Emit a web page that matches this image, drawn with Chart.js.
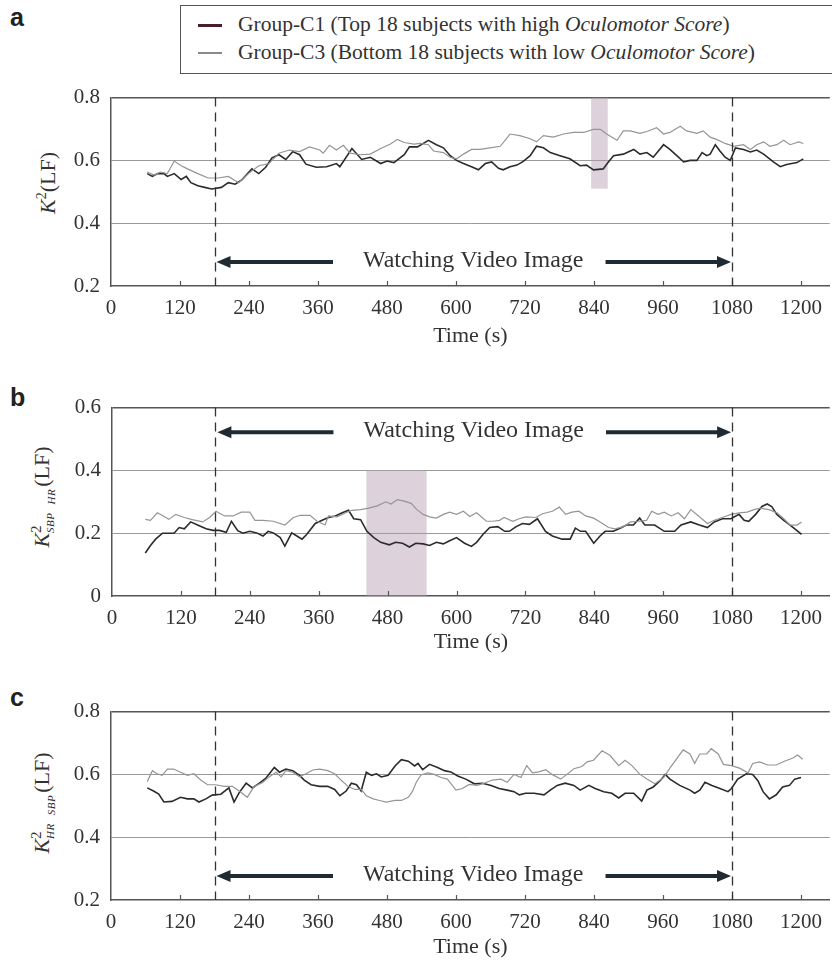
<!DOCTYPE html>
<html>
<head>
<meta charset="utf-8">
<script src="https://cdn.jsdelivr.net/npm/chart.js@4.4.1/dist/chart.umd.min.js"></script>
<style>
  body { margin: 0; background: #fff; }
  #page { position: relative; width: 832px; height: 961px; overflow: hidden; font-family: "Liberation Serif", "Times New Roman", serif; color: #333; }
  canvas { position: absolute; left: 0; }
  .letter { position: absolute; left: 10px; font: bold 25px/24px "Liberation Sans", Arial, sans-serif; color: #222; }
  .ytitle { position: absolute; white-space: nowrap; font-size: 22px; line-height: 22px; transform: translate(-50%, -50%) rotate(-90deg); }
  .ytitle sup { font-size: 14px; }
  .st { display: inline-flex; flex-direction: column; vertical-align: 8px; line-height: 14px; }
  .st .two { font-size: 15px; }
  .st .sb { font-size: 11px; line-height: 14px; font-style: italic; letter-spacing: 0.5px; }
  .hr { display: inline-block; font-size: 11px; font-style: italic; vertical-align: -6px; margin: 0 2px 0 8px; letter-spacing: 0.5px; }
  #legend { position: absolute; left: 180px; top: 5px; width: 700px; height: 63px; border: 1.5px solid #555; padding-top: 4px; box-sizing: content-box; font-size: 21.5px; line-height: 28px; }
  #legend div { padding-left: 17px; white-space: nowrap; }
  .sw { display: inline-block; width: 24px; height: 3px; vertical-align: middle; margin-right: 16px; position: relative; top: -1px; }
</style>
</head>
<body>
<div id="page">
  <div class="letter" style="top:5px">a</div>
  <div class="letter" style="top:385px">b</div>
  <div class="letter" style="top:685px">c</div>

  <div id="legend">
    <div><span class="sw" style="background:#4a1d2c"></span>Group-C1 (Top 18 subjects with high <i>Oculomotor Score</i>)</div>
    <div><span class="sw" style="background:#8a8a8a;height:2px"></span>Group-C3 (Bottom 18 subjects with low <i>Oculomotor Score</i>)</div>
  </div>

  <div class="ytitle" style="left:45px;top:183px"><i>K</i><sup>2</sup>(LF)</div>
  <div class="ytitle" style="left:45px;top:497px"><i>K</i><span class="st"><span class="two">2</span><span class="sb">SBP</span></span><span class="hr">HR</span>(LF)</div>
  <div class="ytitle" style="left:45px;top:803px"><i>K</i><span class="st"><span class="two">2</span><span class="sb">HR</span></span><span class="hr">SBP</span>(LF)</div>

  <canvas id="chartA" width="832" height="276" style="top:74px"></canvas>
  <canvas id="chartB" width="832" height="272" style="top:384px"></canvas>
  <canvas id="chartC" width="832" height="273" style="top:688px"></canvas>
</div>

<script>
// x axis (seconds) and the video window
const timeTicks = [0, 120, 240, 360, 480, 600, 720, 840, 960, 1080, 1200];
const videoWindow = [180, 1080];
const videoLabel = 'Watching Video Image';

// panel a : K2(LF)
const aTicks = [0.2, 0.4, 0.6, 0.8];
const aC1Time = [63,72,81,92,98,110,122,131,139,151,163,175,192,204,216,228,245,257,269,280,292,304,316,328,339,357,375,392,398,419,436,451,469,480,492,510,519,533,552,566,578,590,601,613,627,639,651,662,674,682,694,706,717,729,740,752,764,781,798,816,827,839,856,865,874,891,909,920,932,943,952,961,972,984,996,1007,1019,1028,1036,1042,1051,1059,1068,1077,1086,1100,1112,1123,1135,1152,1164,1175,1193,1204];
const aC1 = [0.558,0.549,0.558,0.558,0.549,0.558,0.539,0.549,0.529,0.519,0.514,0.509,0.514,0.529,0.524,0.539,0.573,0.558,0.578,0.608,0.618,0.603,0.628,0.618,0.588,0.578,0.580,0.590,0.580,0.638,0.603,0.610,0.590,0.598,0.593,0.618,0.643,0.643,0.664,0.650,0.640,0.615,0.600,0.590,0.580,0.570,0.590,0.595,0.575,0.570,0.580,0.585,0.597,0.615,0.645,0.640,0.625,0.615,0.605,0.583,0.585,0.570,0.573,0.595,0.615,0.620,0.635,0.620,0.625,0.610,0.630,0.650,0.635,0.615,0.595,0.600,0.600,0.625,0.615,0.620,0.650,0.630,0.610,0.600,0.640,0.635,0.627,0.633,0.620,0.595,0.580,0.587,0.593,0.605];
const aC3Time = [63,75,86,98,110,122,133,151,169,186,204,222,239,257,275,292,310,328,345,363,369,380,392,404,416,433,451,469,486,498,510,527,537,552,561,578,590,601,613,627,642,659,677,694,711,729,740,752,769,787,804,822,839,851,862,880,891,903,920,932,949,961,972,990,1001,1019,1030,1042,1054,1068,1083,1100,1112,1123,1135,1146,1158,1170,1181,1196,1204];
const aC3 = [0.563,0.553,0.563,0.558,0.598,0.583,0.573,0.558,0.544,0.544,0.549,0.529,0.558,0.583,0.590,0.623,0.633,0.628,0.643,0.633,0.623,0.648,0.633,0.648,0.623,0.618,0.620,0.638,0.652,0.667,0.657,0.652,0.654,0.650,0.630,0.625,0.610,0.605,0.620,0.635,0.635,0.640,0.645,0.684,0.679,0.669,0.659,0.679,0.674,0.684,0.689,0.689,0.699,0.699,0.684,0.664,0.694,0.694,0.686,0.692,0.704,0.684,0.689,0.709,0.694,0.686,0.694,0.674,0.666,0.654,0.645,0.650,0.635,0.650,0.659,0.645,0.650,0.664,0.650,0.659,0.654];
const aShade = [[835, 864, 0.51, 0.8]];

// panel b : K2 SBP HR (LF)
const bTicks = [0, 0.2, 0.4, 0.6];
const bC1Time = [58,67,76,88,99,108,117,126,137,149,164,176,187,199,208,219,228,240,252,263,272,281,293,301,313,322,331,339,354,366,377,389,401,412,421,433,444,456,468,483,494,506,518,529,542,553,565,577,588,600,614,626,635,646,658,672,684,692,704,715,727,741,755,767,784,798,807,816,825,839,850,859,873,885,896,908,919,928,945,962,980,991,1008,1023,1037,1049,1063,1078,1092,1101,1109,1121,1132,1141,1149,1158,1170,1181,1193,1201];
const bC1 = [0.137,0.161,0.181,0.200,0.200,0.200,0.218,0.214,0.236,0.226,0.214,0.209,0.209,0.203,0.238,0.208,0.200,0.206,0.201,0.191,0.206,0.201,0.186,0.159,0.201,0.191,0.181,0.196,0.231,0.241,0.250,0.255,0.265,0.273,0.246,0.243,0.206,0.186,0.171,0.163,0.171,0.168,0.156,0.168,0.166,0.161,0.171,0.166,0.176,0.186,0.168,0.158,0.171,0.196,0.218,0.221,0.206,0.206,0.221,0.231,0.228,0.246,0.206,0.191,0.181,0.181,0.216,0.206,0.206,0.168,0.191,0.206,0.206,0.216,0.226,0.226,0.248,0.226,0.226,0.206,0.206,0.226,0.236,0.226,0.218,0.236,0.246,0.246,0.260,0.241,0.238,0.260,0.285,0.293,0.285,0.260,0.241,0.226,0.208,0.196];
const bC3Time = [58,67,79,91,99,111,126,140,158,170,181,196,211,225,240,249,263,281,301,316,328,345,357,371,377,392,407,418,433,447,462,477,486,497,509,521,531,542,553,565,577,588,600,612,623,635,652,663,675,683,698,709,721,738,750,767,779,790,801,813,825,839,850,865,876,891,903,917,931,940,951,962,974,986,997,1008,1020,1037,1049,1063,1078,1092,1106,1118,1129,1144,1158,1170,1181,1193,1201];
const bC3 = [0.244,0.241,0.265,0.253,0.244,0.260,0.250,0.243,0.236,0.250,0.270,0.255,0.255,0.267,0.267,0.241,0.241,0.238,0.226,0.250,0.257,0.257,0.238,0.226,0.255,0.252,0.265,0.273,0.275,0.280,0.287,0.300,0.293,0.307,0.302,0.295,0.275,0.260,0.252,0.248,0.260,0.267,0.260,0.270,0.253,0.265,0.238,0.238,0.241,0.250,0.238,0.246,0.252,0.250,0.262,0.270,0.283,0.260,0.267,0.270,0.255,0.248,0.236,0.218,0.214,0.221,0.236,0.238,0.241,0.270,0.260,0.267,0.255,0.265,0.246,0.275,0.257,0.231,0.241,0.250,0.260,0.265,0.267,0.275,0.280,0.275,0.265,0.246,0.226,0.226,0.236];
const bShade = [[443, 548, 0, 0.4]];

// panel c : K2 HR SBP (LF)
const cTicks = [0.2, 0.4, 0.6, 0.8];
const cC1Time = [63,74,83,92,106,121,133,144,153,165,176,191,205,214,223,235,246,258,269,284,293,304,316,328,336,348,363,377,389,398,409,418,427,435,444,453,462,470,482,494,505,517,528,534,542,554,568,580,591,603,617,632,646,661,675,689,701,710,721,736,753,764,776,790,805,816,831,842,857,871,883,894,909,923,932,943,955,964,972,989,1007,1015,1024,1033,1045,1059,1073,1079,1090,1105,1116,1125,1134,1145,1157,1168,1180,1189,1200];
const cC1 = [0.557,0.547,0.537,0.512,0.514,0.527,0.522,0.522,0.512,0.522,0.534,0.537,0.557,0.512,0.542,0.572,0.557,0.572,0.587,0.622,0.607,0.617,0.612,0.597,0.582,0.567,0.562,0.562,0.552,0.532,0.547,0.572,0.567,0.547,0.607,0.597,0.602,0.592,0.597,0.627,0.647,0.642,0.627,0.635,0.615,0.632,0.622,0.612,0.608,0.595,0.585,0.570,0.572,0.565,0.555,0.550,0.545,0.535,0.540,0.540,0.535,0.550,0.565,0.572,0.565,0.550,0.565,0.555,0.545,0.540,0.525,0.540,0.540,0.515,0.550,0.560,0.580,0.600,0.585,0.565,0.550,0.540,0.550,0.575,0.565,0.555,0.545,0.555,0.585,0.602,0.600,0.580,0.545,0.522,0.535,0.560,0.565,0.585,0.590];
const cC3Time = [63,72,80,89,98,109,121,133,144,156,168,182,197,211,223,237,249,264,275,287,296,304,316,328,339,351,363,377,389,400,412,424,435,444,456,467,479,494,505,517,524,531,539,551,562,574,585,600,611,623,637,649,663,678,689,701,713,723,733,744,756,767,782,793,805,819,828,839,854,868,883,894,906,920,932,946,961,972,984,995,1007,1015,1024,1036,1044,1056,1065,1079,1093,1108,1116,1128,1142,1157,1171,1186,1194,1203];
const cC3 = [0.577,0.612,0.602,0.597,0.617,0.617,0.607,0.597,0.602,0.582,0.567,0.567,0.562,0.562,0.547,0.527,0.562,0.574,0.592,0.607,0.592,0.612,0.607,0.592,0.602,0.614,0.617,0.612,0.602,0.582,0.562,0.552,0.552,0.532,0.522,0.517,0.512,0.517,0.517,0.527,0.545,0.575,0.598,0.605,0.600,0.590,0.585,0.550,0.555,0.568,0.565,0.572,0.582,0.585,0.575,0.600,0.590,0.628,0.605,0.608,0.615,0.600,0.585,0.600,0.618,0.625,0.640,0.645,0.675,0.660,0.628,0.645,0.628,0.600,0.585,0.570,0.590,0.620,0.650,0.678,0.665,0.635,0.665,0.665,0.682,0.665,0.632,0.628,0.620,0.605,0.635,0.640,0.630,0.630,0.642,0.652,0.662,0.648];
const cShade = [];

const serif = '"Liberation Serif", "Times New Roman", serif';

function pairs(times, vals) {
    const n = Math.min(times.length, vals.length);
    const out = [];
    for (let i = 0; i < n; i++) out.push({x: times[i], y: vals[i]});
    return out;
}

function drawArrow(ctx, from, to, y) {
    const dir = Math.sign(to - from);
    const head = 14;
    ctx.beginPath();
    ctx.moveTo(from, y);
    ctx.lineTo(to - dir * head + dir * 2, y);
    ctx.stroke();
    ctx.beginPath();
    ctx.moveTo(to, y);
    ctx.lineTo(to - dir * head, y - 6);
    ctx.lineTo(to - dir * head, y + 6);
    ctx.closePath();
    ctx.fill();
}

// shading, video window, arrows and the inward x ticks
const panelDecor = {
    id: 'panelDecor',
    beforeDatasetsDraw(chart, args, opts) {
        const {ctx, scales: {x, y}} = chart;
        ctx.save();
        ctx.fillStyle = 'rgba(180,155,178,0.45)';
        opts.shades.forEach(s => {
            const x0 = x.getPixelForValue(s[0]), x1 = x.getPixelForValue(s[1]);
            const y0 = y.getPixelForValue(s[3]), y1 = y.getPixelForValue(s[2]);
            ctx.fillRect(x0, y0, x1 - x0, y1 - y0);
        });
        ctx.restore();
    },
    afterDatasetsDraw(chart, args, opts) {
        const {ctx, chartArea, scales: {x, y}} = chart;
        ctx.save();

        // inward tick marks on the time axis
        ctx.strokeStyle = '#555';
        ctx.lineWidth = 1.2;
        timeTicks.forEach(t => {
            if (t === 0) return;
            const px = Math.round(x.getPixelForValue(t)) + 0.5;
            ctx.beginPath();
            ctx.moveTo(px, chartArea.bottom);
            ctx.lineTo(px, chartArea.bottom - 5);
            ctx.stroke();
        });

        // dashed lines at start and end of the video
        ctx.setLineDash([9, 6]);
        ctx.strokeStyle = '#333';
        ctx.lineWidth = 1.3;
        videoWindow.forEach(t => {
            const px = Math.round(x.getPixelForValue(t)) + 0.5;
            ctx.beginPath();
            ctx.moveTo(px, chartArea.top);
            ctx.lineTo(px, chartArea.bottom);
            ctx.stroke();
        });
        ctx.setLineDash([]);

        // label with arrows
        const xl = x.getPixelForValue(videoWindow[0]);
        const xr = x.getPixelForValue(videoWindow[1]);
        const cx = (xl + xr) / 2;
        const cy = y.getPixelForValue(opts.arrowY);
        ctx.font = '24px ' + serif;
        ctx.textAlign = 'center';
        ctx.textBaseline = 'middle';
        ctx.fillStyle = '#333';
        ctx.fillText(videoLabel, cx, cy);
        const half = ctx.measureText(videoLabel).width / 2;
        ctx.strokeStyle = '#1f2a33';
        ctx.fillStyle = '#1f2a33';
        ctx.lineWidth = 4;
        drawArrow(ctx, cx - half - 30, xl + 2, cy + 1);
        drawArrow(ctx, cx + half + 22, xr - 1, cy + 1);
        ctx.restore();
    }
};

function makePanel(id, c1Time, c1, c3Time, c3, yTicks, yWidth, xHeight, arrowY, shades) {
    const yMin = yTicks[0], yMax = yTicks[yTicks.length - 1];
    return new Chart(document.getElementById(id), {
        type: 'line',
        data: {
            datasets: [{
                label: 'Group-C3',
                data: pairs(c3Time, c3),
                borderColor: '#959595',
                borderWidth: 1.2,
                pointRadius: 0,
                tension: 0,
                fill: false
            }, {
                label: 'Group-C1',
                data: pairs(c1Time, c1),
                borderColor: '#2b2b2b',
                borderWidth: 1.6,
                pointRadius: 0,
                tension: 0,
                fill: false
            }]
        },
        options: {
            responsive: false,
            devicePixelRatio: 1,
            animation: false,
            layout: { padding: { top: 10, right: 0, left: 0, bottom: 0 } },
            plugins: {
                legend: { display: false },
                tooltip: { enabled: false },
                panelDecor: { arrowY: arrowY, shades: shades }
            },
            scales: {
                x: {
                    type: 'linear',
                    min: 0,
                    max: 1250,
                    afterBuildTicks: s => { s.ticks = timeTicks.map(v => ({value: v})); },
                    afterFit: s => { s.height = xHeight; },
                    grid: { display: true, drawOnChartArea: false, drawTicks: false },
                    border: { display: true, color: '#555', width: 1.5 },
                    ticks: {
                        font: { family: serif, size: 21 },
                        color: '#333',
                        padding: 10,
                        maxRotation: 0,
                        autoSkip: false,
                        callback: v => String(v)
                    },
                    title: {
                        display: true,
                        text: 'Time (s)',
                        font: { family: serif, size: 22 },
                        color: '#333',
                        padding: { top: 0, bottom: 1 }
                    }
                },
                y: {
                    min: yMin,
                    max: yMax,
                    afterBuildTicks: s => { s.ticks = yTicks.map(v => ({value: v})); },
                    afterFit: s => { s.width = yWidth; },
                    grid: {
                        drawTicks: false,
                        color: c => c.tick.value === yMax ? '#555' : (c.tick.value === yMin ? 'rgba(0,0,0,0)' : '#9a9a9a'),
                        lineWidth: c => c.tick.value === yMax ? 1.5 : 1
                    },
                    border: { display: true, color: '#555', width: 1.5 },
                    ticks: {
                        font: { family: serif, size: 21 },
                        color: '#333',
                        padding: 11,
                        callback: v => v === 0 ? '0' : v.toFixed(1)
                    }
                }
            }
        },
        plugins: [panelDecor]
    });
}

makePanel('chartA', aC1Time, aC1, aC3Time, aC3, aTicks, 111, 64, 0.28, aShade);
makePanel('chartB', bC1Time, bC1, bC3Time, bC3, bTicks, 112, 60, 0.525, bShade);
makePanel('chartC', cC1Time, cC1, cC3Time, cC3, cTicks, 111, 61, 0.28, cShade);
</script>
</body>
</html>
